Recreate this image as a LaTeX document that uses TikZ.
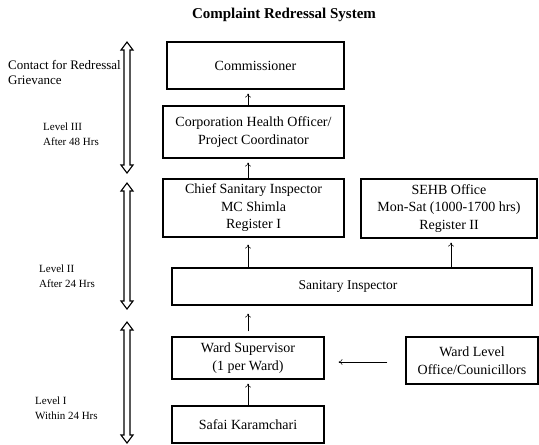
\documentclass[tikz,border=0pt]{standalone}
\usepackage{fontspec}
\setmainfont{Liberation Serif}
\usetikzlibrary{arrows.meta}
\begin{document}
\begin{tikzpicture}[x=1pt,y=-1pt,
  box/.style={draw, line width=1.1pt, inner sep=0pt, align=center, font=\fontsize{14}{17.5}\selectfont},
  arr/.style={-{To[length=4pt,width=6pt]}, line width=0.5pt},
  lbl/.style={anchor=west, inner sep=0pt, align=left},
  big/.style={font=\fontsize{13}{15}\selectfont},
  small/.style={font=\fontsize{11}{15}\selectfont},
  dbl/.style={draw, line width=1.1pt, fill=white}]
\useasboundingbox (0,0) rectangle (539,445);
% title
\node[font=\bfseries\fontsize{15}{18}\selectfont] (title) at (284,15) {Complaint Redressal System};
% boxes
\node[box, minimum width=177pt, minimum height=47pt] (com) at (255.5,65.5) {Commissioner};
\node[box, minimum width=181pt, minimum height=52pt] (cho) at (253.5,132) {Corporation Health Officer/\\Project Coordinator};
\node[box, minimum width=181pt, minimum height=58pt] (csi) at (253.5,208) {Chief Sanitary Inspector\\MC Shimla\\Register I};
\node[box, minimum width=176pt, minimum height=59pt] (sehb) at (449,208.5) {SEHB Office\\Mon-Sat (1000-1700 hrs)\\Register II};
\node[box, minimum width=360pt, minimum height=37pt, font=\fontsize{13.5}{16}\selectfont] (si) at (352,286.5) {\hspace*{-8pt}Sanitary Inspector};
\node[box, minimum width=152pt, minimum height=42pt] (ws) at (248,358) {Ward Supervisor\\(1 per Ward)};
\node[box, minimum width=152pt, minimum height=37pt] (sk) at (248,424.5) {Safai Karamchari};
\node[box, minimum width=132pt, minimum height=47pt] (wl) at (472,360.5) {Ward Level\\Office/Counicillors};
% connectors
\draw[arr, shorten >=4pt] (cho.north -| ws.center) -- (com.south -| ws.center);
\draw[arr, shorten >=4pt] (csi.north -| ws.center) -- (cho.south -| ws.center);
\draw[arr, shorten >=7pt] (si.north -| ws.center) -- (csi.south -| ws.center);
\draw[arr, shorten <=5pt, shorten >=8pt] (ws.north) -- (ws.north |- si.south);
\draw[arr, shorten >=4pt] (sk.north) -- (ws.south);
\coordinate (sa) at ([xshift=2pt]si.north -| sehb.center);
\draw[arr, shorten >=4pt] (sa) -- (sa |- sehb.south);
\coordinate (hl) at (0,362);
\draw[arr, shorten <=18pt, shorten >=14pt] (wl.west |- hl) -- (ws.east |- hl);
% left labels
\node[lbl, big] (c1) at (8,65) {Contact for Redressal};
\node[lbl, big] (c2) at (8,80) {Grievance};
\node[lbl, small] (l3) at (43,134.5) {Level III\\After 48 Hrs};
\node[lbl, small] (l2) at (39,276.5) {Level II\\After 24 Hrs};
\node[lbl, small] (l1) at (35,408.5) {Level I\\Within 24 Hrs};
% double arrows
\foreach \t/\b/\n in {42/173/da3, 183/309/da2, 322/443/da1}{
  \draw[dbl] (127,\t) -- (133,\t+8) -- (130,\t+8) -- (130,\b-8) -- (133,\b-8) -- (127,\b)
    -- (121,\b-8) -- (124,\b-8) -- (124,\t+8) -- (121,\t+8) -- cycle;
  \coordinate (\n) at (127,\t);
}
\end{tikzpicture}
\end{document}
